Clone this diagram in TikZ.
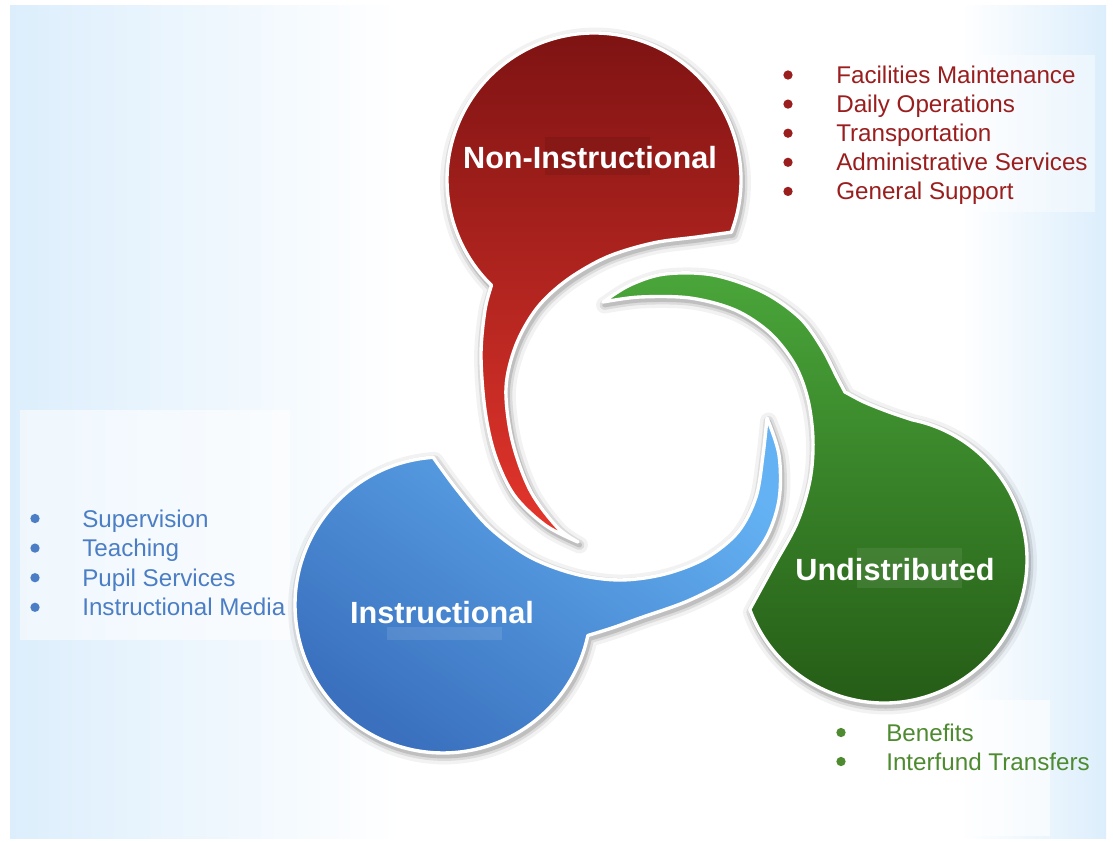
\documentclass[tikz,border=0pt]{standalone}
\usepackage{fontspec}
\setmainfont{Liberation Sans}
\definecolor{bgb}{HTML}{DCEEFC}
\definecolor{redA}{HTML}{7A1212}
\definecolor{redB}{HTML}{B62420}
\definecolor{redC}{HTML}{E6362C}
\definecolor{grnA}{HTML}{4AA63A}
\definecolor{grnB}{HTML}{3A882A}
\definecolor{grnC}{HTML}{245A15}
\definecolor{bluA}{HTML}{64B2F3}
\definecolor{bluB}{HTML}{3A70BE}
\definecolor{redtxt}{HTML}{9A1E1E}
\definecolor{blutxt}{HTML}{4B7EC4}
\definecolor{grntxt}{HTML}{4E8A30}
\def\redshape{(731.4,232.2) arc[start angle=20.8,end angle=-225.8,radius=147]
 -- plot[smooth,tension=0.55] coordinates {(491.5,285.4) (485,310) (481,355) (485,410) (495,455) (514,495) (545,525) (578,542)}
 -- plot[smooth,tension=0.55] coordinates {(578,542) (557,527) (530,490) (512,440) (506,388) (516,345) (537,308) (567,280) (607,257) (653,243) (697,237) (731.4,232.2)} -- cycle}
\def\grnshape{plot[smooth,tension=0.55] coordinates {(603,302) (630,285) (665,274) (713,275) (763,292) (800,318) (822,348) (837,377) (845,392)}
 -- plot[smooth,tension=0.5] coordinates {(845,392) (864,402) (889,412) (912.5,419.9)}
 arc[start angle=-78.5,end angle=159.8,radius=143]
 -- plot[smooth,tension=0.55] coordinates {(749.8,609.4) (773,567) (797,523) (810,480) (813,440) (808,400) (795,365) (770,333) (735,310) (690,298) (640,297) (603,302)} -- cycle}
\def\blushape{(433.2,457.3) arc[start angle=-93.8,end angle=-348.1,radius=148]
 -- plot[smooth,tension=0.55] coordinates {(587.8,635.5) (612,628) (640,618) (690,600) (735,575) (765,540) (779,500) (779,455) (767,418)}
 -- plot[smooth,tension=0.55] coordinates {(767,418) (763,455) (756,497) (738,532) (706,558) (665,574) (620,580) (575,574) (530,557) (490,528) (458,491) (433.2,457.3)} -- cycle}
\begin{document}
\begin{tikzpicture}[x=0.025cm,y=-0.025cm,line join=round,
  shA/.style={draw=black,opacity=0.05,line width=12pt},
  shB/.style={draw=black,opacity=0.09,line width=7pt},
  shC/.style={draw=black,opacity=0.13,line width=3.5pt},
  rim/.style={draw=white,line width=2.4pt},
  dot/.style={circle,fill,inner sep=0pt,minimum size=6.6pt},
  listtxt/.style={anchor=base west,font=\fontsize{17.2}{20}\selectfont,inner sep=0pt},
  ttl/.style={anchor=base,font=\fontsize{21.8}{26}\selectfont\bfseries,text=white,inner sep=0pt}]
\useasboundingbox (0,0) rectangle (1113,842);
\fill[white] (0,0) rectangle (1113,842);
\fill[left color=bgb,right color=white] (10,5) rectangle (400,838);
\fill[left color=white,right color=bgb] (960,5) rectangle (1106,838);
\fill[white,opacity=0.55] (20,410) rectangle (290,640);
\fill[white,opacity=0.6] (780,700) rectangle (1050,836);
\fill[white,opacity=0.4] (775,55) rectangle (1095,212);
% red
\begin{scope}[shift={(1.5,3)}]
\draw[shA] \redshape; \draw[shB] \redshape; \draw[shC] \redshape;
\end{scope}
\fill[top color=redA,middle color=redB,bottom color=redC] \redshape;
\draw[rim] \redshape;
% green
\begin{scope}[shift={(1.5,3)}]
\draw[shA] \grnshape; \draw[shB] \grnshape; \draw[shC] \grnshape;
\end{scope}
\fill[top color=grnA,middle color=grnB,bottom color=grnC] \grnshape;
\draw[rim] \grnshape;
% blue
\begin{scope}[shift={(1.5,3)}]
\draw[shA] \blushape; \draw[shB] \blushape; \draw[shC] \blushape;
\end{scope}
\fill[top color=bluA,bottom color=bluB,shading angle=-35] \blushape;
\draw[rim] \blushape;
% highlight artefacts
\fill[black,opacity=0.09] (545,137) rectangle (650,175);
\fill[white,opacity=0.08] (857,548) rectangle (962,588);
\fill[white,opacity=0.10] (387,627) rectangle (502,640);
% titles
\node[ttl] (tn) at (590,168) {Non-Instructional};
\node[ttl] (tu) at (895,580) {Undistributed};
\node[ttl] (ti) at (442,623) {Instructional};
% red list
\foreach \t [count=\i from 0] in {Facilities Maintenance,Daily Operations,Transportation,Administrative Services,General Support}{
  \node[dot,fill=redtxt] (rb\i) at (788,75+29.1*\i) {};
  \node[listtxt,text=redtxt] (rl\i) at (836,83.5+29.1*\i) {\t};
}
% blue list
\foreach \t [count=\i from 0] in {Supervision,Teaching,Pupil Services,Instructional Media}{
  \node[dot,fill=blutxt] (bb\i) at (35,518.5+29.6*\i) {};
  \node[listtxt,text=blutxt] (bl\i) at (82,527+29.6*\i) {\t};
}
% green list
\foreach \t [count=\i from 0] in {Benefits,Interfund Transfers}{
  \node[dot,fill=grntxt] (gb\i) at (841,732.5+29*\i) {};
  \node[listtxt,text=grntxt] (gl\i) at (886,741+29*\i) {\t};
}
\end{tikzpicture}
\end{document}
